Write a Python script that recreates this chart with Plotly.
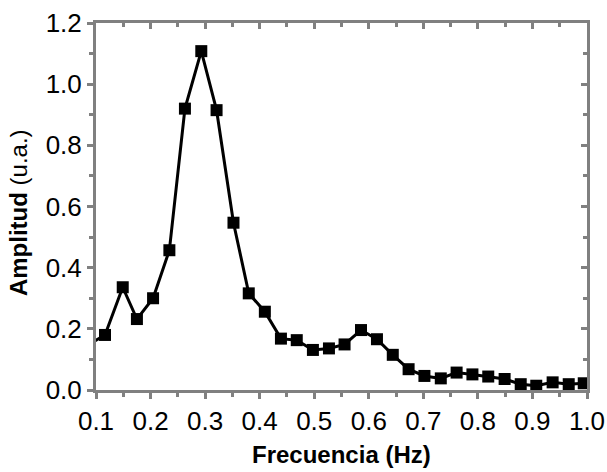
import plotly.graph_objects as go

freq = [0.0875, 0.1165, 0.149, 0.175, 0.2046, 0.2345, 0.263, 0.293, 0.321, 0.352,
        0.380, 0.4095, 0.439, 0.468, 0.4976, 0.527, 0.5556, 0.5857, 0.615, 0.644,
        0.673, 0.702, 0.732, 0.761, 0.790, 0.819, 0.849, 0.8785, 0.907, 0.937,
        0.9665, 0.994]
amp = [0.15, 0.18, 0.336, 0.232, 0.30, 0.457, 0.92, 1.108, 0.915, 0.547,
       0.316, 0.256, 0.168, 0.163, 0.131, 0.136, 0.149, 0.196, 0.166, 0.115,
       0.068, 0.046, 0.038, 0.057, 0.051, 0.044, 0.036, 0.019, 0.014, 0.025,
       0.019, 0.022]

x_ticks = [0.1, 0.2, 0.3, 0.4, 0.5, 0.6, 0.7, 0.8, 0.9, 1.0]
y_ticks = [0.0, 0.2, 0.4, 0.6, 0.8, 1.0, 1.2]
x_range = [0.1, 1.0]
y_range = [0.0, 1.2]
x_title = "<b>Frecuencia (Hz)</b>"
y_title = "<b>Amplitud</b> (u.a.)"

FONT = "Liberation Sans, Arial, sans-serif"
GREY = "#808080"

fig = go.Figure()
fig.add_trace(go.Scatter(
    x=freq, y=amp, mode="lines+markers",
    line=dict(color="black", width=3),
    marker=dict(symbol="square", size=12, color="black"),
    cliponaxis=True, showlegend=False,
))
fig.add_trace(go.Scatter(x=[], y=[], xaxis="x2", yaxis="y2", showlegend=False))

common = dict(showgrid=False, zeroline=False, showline=True, linecolor=GREY, linewidth=3,
              tickcolor=GREY, tickwidth=2.5, ticklen=6, automargin=False)

fig.update_layout(
    width=607, height=472,
    margin=dict(l=96, r=20, t=23, b=82),
    plot_bgcolor="white", paper_bgcolor="white",
    font=dict(family=FONT, color="black"),
    xaxis=dict(range=x_range, tickvals=x_ticks, ticktext=[f"{v:.1f}" for v in x_ticks],
               ticks="outside", tickfont=dict(size=26, family=FONT),
               minor=dict(ticks="outside", dtick=0.05, ticklen=4, tickcolor=GREY, tickwidth=2.5),
               **common),
    yaxis=dict(range=y_range, tickvals=y_ticks, ticktext=[f"{v:.1f}" for v in y_ticks],
               ticks="outside", tickfont=dict(size=26, family=FONT),
               minor=dict(ticks="outside", dtick=0.1, ticklen=4, tickcolor=GREY, tickwidth=2.5),
               **common),
    xaxis2=dict(range=x_range, overlaying="x", side="top", tickvals=x_ticks, ticks="inside",
                showticklabels=False,
                minor=dict(ticks="inside", dtick=0.05, ticklen=4, tickcolor=GREY, tickwidth=2.5),
                **common),
    yaxis2=dict(range=y_range, overlaying="y", side="right", tickvals=y_ticks, ticks="inside",
                showticklabels=False,
                minor=dict(ticks="inside", dtick=0.1, ticklen=4, tickcolor=GREY, tickwidth=2.5),
                **common),
    annotations=[
        dict(text=x_title, xref="paper", yref="paper", x=0.5, y=0, xanchor="center",
             yanchor="bottom", yshift=-80, showarrow=False, font=dict(size=24, family=FONT)),
        dict(text=y_title, xref="paper", yref="paper", x=0, y=0.482, xanchor="center",
             yanchor="middle", xshift=-78, textangle=-90, showarrow=False,
             font=dict(size=24, family=FONT)),
    ],
)

fig.write_html("out.html")
